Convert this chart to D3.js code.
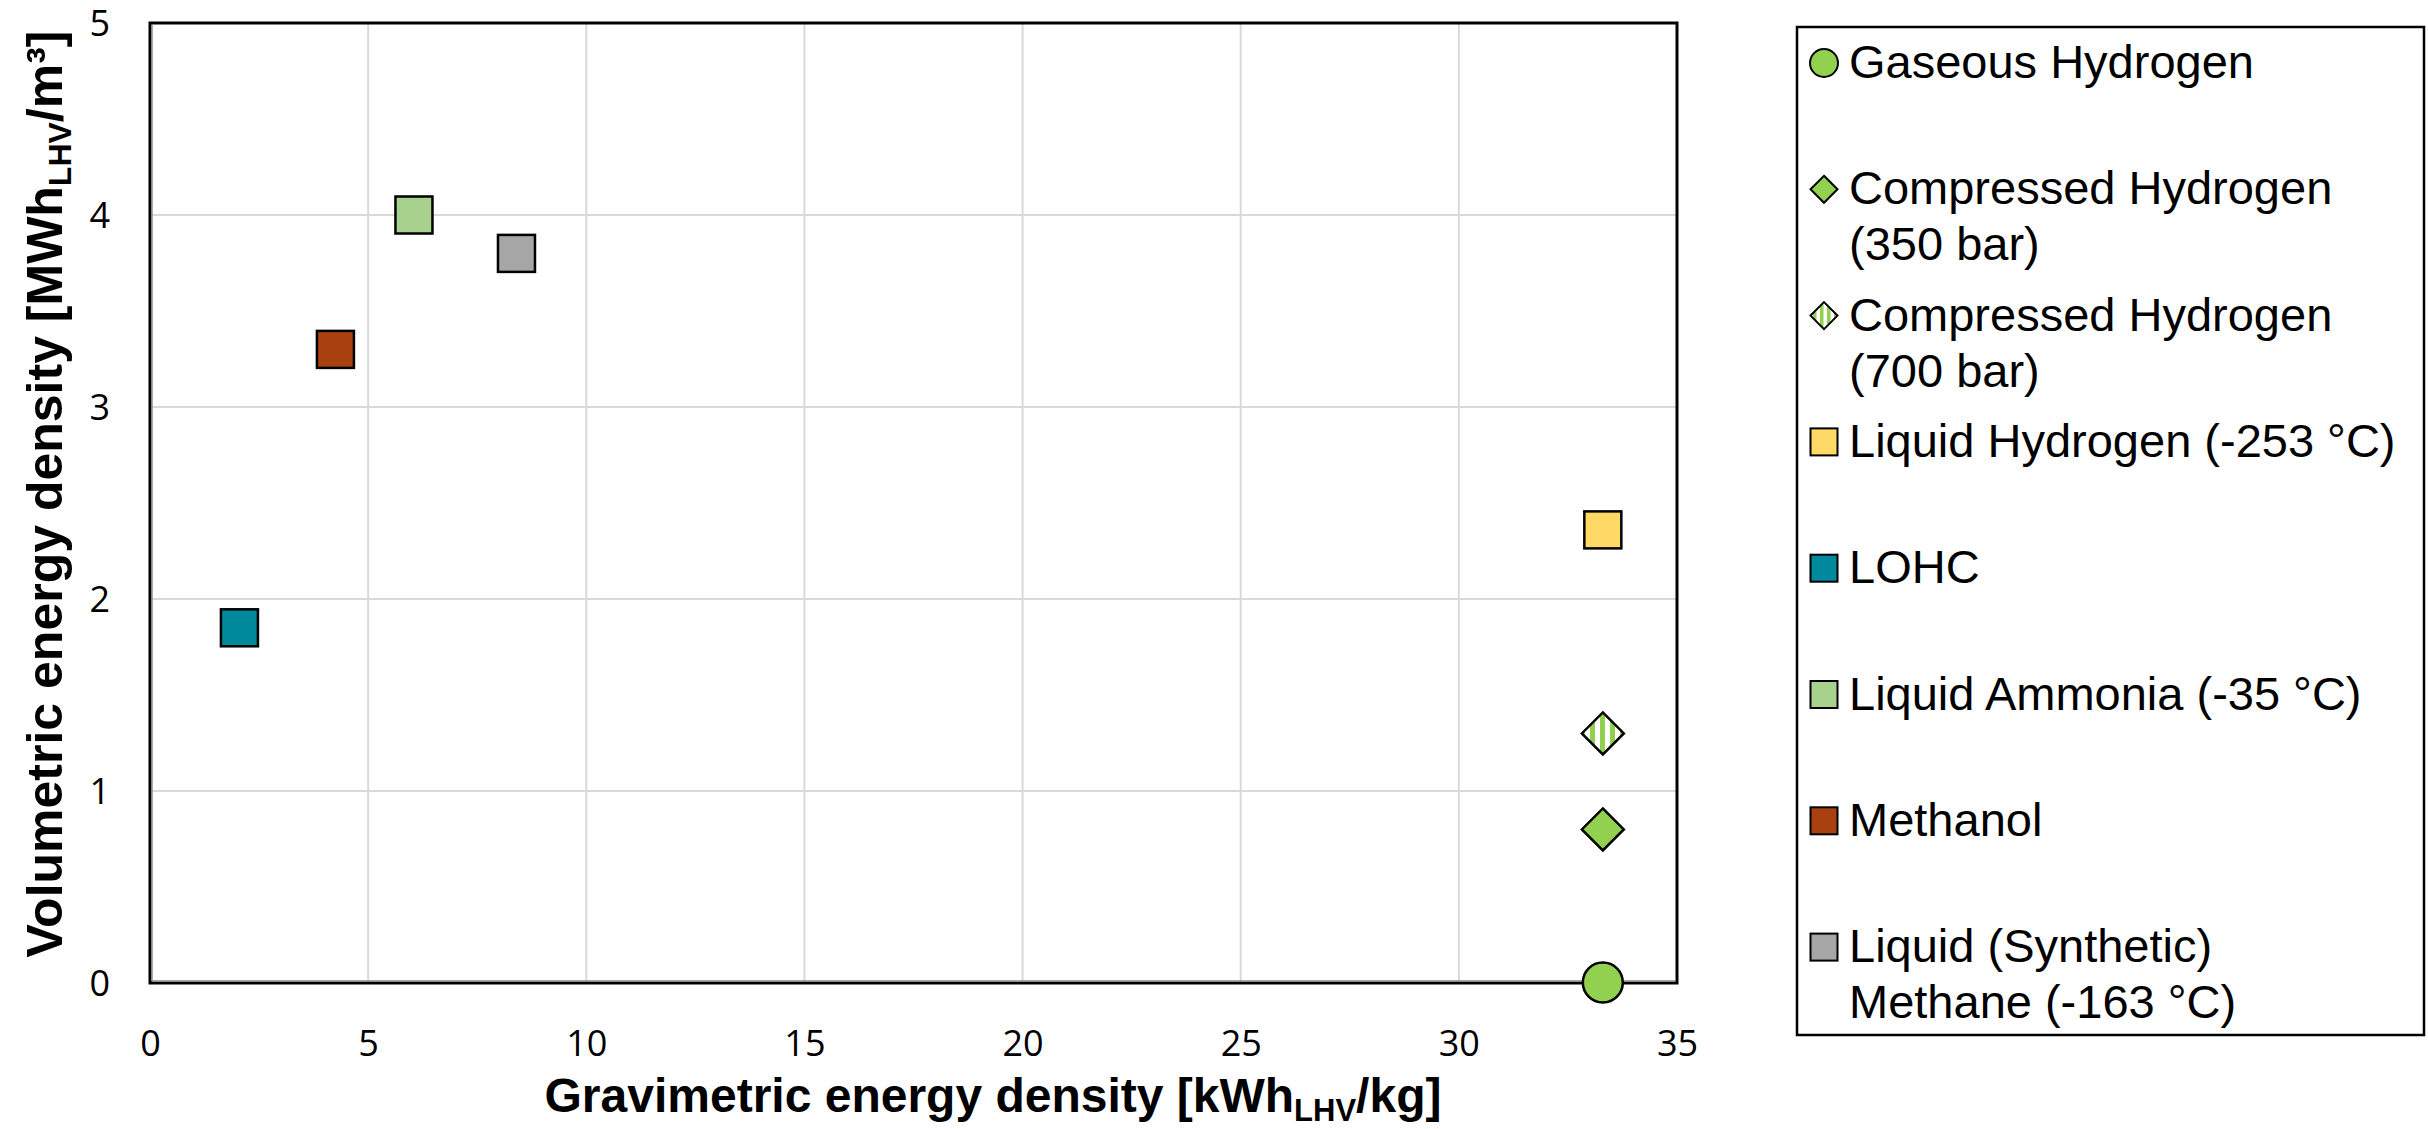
<!DOCTYPE html>
<html>
<head>
<meta charset="utf-8">
<script src="https://cdn.jsdelivr.net/npm/d3@7"></script>
<style>
  html, body { margin: 0; padding: 0; background: #ffffff; }
  svg { display: block; }
</style>
</head>
<body>
<svg id="chart" width="2428" height="1129"></svg>
<script>
// ---------- data ----------
const seriesNames = [
  ["Gaseous Hydrogen"],
  ["Compressed Hydrogen", "(350 bar)"],
  ["Compressed Hydrogen", "(700 bar)"],
  ["Liquid Hydrogen (-253 °C)"],
  ["LOHC"],
  ["Liquid Ammonia (-35 °C)"],
  ["Methanol"],
  ["Liquid (Synthetic)", "Methane (-163 °C)"]
];
const gravimetric = [33.3, 33.3, 33.3, 33.3, 2.05, 6.05, 4.25, 8.4];   // kWh_LHV/kg
const volumetric  = [0.003, 0.8, 1.3, 2.36, 1.85, 4.0, 3.3, 3.8];      // MWh_LHV/m³
const markerShapes = ["circle", "diamond", "diamond", "square", "square", "square", "square", "square"];
const markerFills  = ["#92d050", "#92d050", "stripes", "#ffd966", "#00889c", "#a9d18e", "#a9400f", "#a6a6a6"];
const xTicks = [0, 5, 10, 15, 20, 25, 30, 35];
const yTicks = [0, 1, 2, 3, 4, 5];

// ---------- layout ----------
const svg = d3.select("#chart");
const plot = { left: 150, right: 1677, top: 23, bottom: 983 };

const x = d3.scaleLinear().domain([0, 35]).range([plot.left, plot.right]);
const y = d3.scaleLinear().domain([0, 5]).range([plot.bottom, plot.top]);

// stripe pattern for 700 bar
const defs = svg.append("defs");
function stripePattern(id, w) {
  const p = defs.append("pattern").attr("id", id)
    .attr("patternUnits", "userSpaceOnUse").attr("width", w * 2).attr("height", 10);
  p.append("rect").attr("width", w * 2).attr("height", 10).attr("fill", "#ffffff");
  p.append("rect").attr("width", w).attr("height", 10).attr("fill", "#92d050");
}
stripePattern("stripesPlot", 5);
stripePattern("stripesLegend", 3.5);

function fillFor(i, legend) {
  if (markerFills[i] === "stripes") return legend ? "url(#stripesLegend)" : "url(#stripesPlot)";
  return markerFills[i];
}

// gridlines
const grid = svg.append("g");
grid.selectAll("line.gx").data(xTicks.filter(d => d > 0 && d < 35)).enter().append("line")
  .attr("x1", d => x(d)).attr("x2", d => x(d))
  .attr("y1", plot.top).attr("y2", plot.bottom)
  .attr("stroke", "#d9d9d9").attr("stroke-width", 2);
grid.selectAll("line.gy").data(yTicks.filter(d => d > 0 && d < 5)).enter().append("line")
  .attr("x1", plot.left).attr("x2", plot.right)
  .attr("y1", d => y(d)).attr("y2", d => y(d))
  .attr("stroke", "#d9d9d9").attr("stroke-width", 2);

// plot frame
svg.append("rect")
  .attr("x", plot.left).attr("y", plot.top)
  .attr("width", plot.right - plot.left).attr("height", plot.bottom - plot.top)
  .attr("fill", "none").attr("stroke", "#000").attr("stroke-width", 3);
svg.append("line").attr("x1", plot.left + 2).attr("x2", plot.left + 2)
  .attr("y1", plot.top + 2).attr("y2", plot.bottom - 2)
  .attr("stroke", "#8c8c8c").attr("stroke-width", 1.5);
svg.append("line").attr("x1", plot.left + 2).attr("x2", plot.right - 2)
  .attr("y1", plot.bottom - 2).attr("y2", plot.bottom - 2)
  .attr("stroke", "#8c8c8c").attr("stroke-width", 1.5);

// axes (tick labels only)
const tickFont = "'Open Sans', 'Noto Sans', sans-serif";
const xAxis = svg.append("g").attr("transform", `translate(0,${plot.bottom})`)
  .call(d3.axisBottom(x).tickValues(xTicks).tickFormat(d3.format("d")).tickSize(0));
const yAxis = svg.append("g").attr("transform", `translate(${plot.left},0)`)
  .call(d3.axisLeft(y).tickValues(yTicks).tickFormat(d3.format("d")).tickSize(0).tickPadding(40));
[xAxis, yAxis].forEach(a => {
  a.select(".domain").remove();
  a.selectAll("text").attr("font-family", tickFont).attr("font-size", 36).attr("fill", "#000");
});
xAxis.selectAll("text").attr("dy", "0.35em").attr("y", 60);
yAxis.selectAll("text").attr("dy", "0.35em");

// axis titles
const titleFont = "'Liberation Sans', Arial, sans-serif";
const xt = svg.append("text")
  .attr("x", 993).attr("y", 1112)
  .attr("text-anchor", "middle")
  .attr("font-family", titleFont).attr("font-weight", "bold").attr("font-size", 48).attr("fill", "#000");
xt.append("tspan").text("Gravimetric energy density [kWh");
xt.append("tspan").attr("font-size", 31).attr("dy", 9).text("LHV");
xt.append("tspan").attr("dy", -9).text("/kg]");

const yt = svg.append("text")
  .attr("transform", "translate(62,494) rotate(-90)")
  .attr("text-anchor", "middle")
  .attr("font-family", titleFont).attr("font-weight", "bold").attr("font-size", 50).attr("fill", "#000");
yt.append("tspan").text("Volumetric energy density [MWh");
yt.append("tspan").attr("font-size", 32).attr("dy", 9).text("LHV");
yt.append("tspan").attr("dy", -9).text("/m³]");

// markers
function drawMarker(g, shape, cx, cy, size, fill, sw) {
  const h = size / 2;
  if (shape === "circle") {
    g.append("circle").attr("cx", cx).attr("cy", cy).attr("r", h)
      .attr("fill", fill).attr("stroke", "#000").attr("stroke-width", sw);
  } else if (shape === "diamond") {
    g.append("path")
      .attr("d", `M${cx},${cy - h}L${cx + h},${cy}L${cx},${cy + h}L${cx - h},${cy}Z`)
      .attr("fill", fill).attr("stroke", "#000").attr("stroke-width", sw);
  } else {
    g.append("rect").attr("x", cx - h).attr("y", cy - h).attr("width", size).attr("height", size)
      .attr("fill", fill).attr("stroke", "#000").attr("stroke-width", sw);
  }
}
const pts = svg.append("g");
const order = [4, 5, 6, 7, 3, 2, 1, 0];
order.forEach(i => {
  const s = markerShapes[i] === "circle" ? 40 : (markerShapes[i] === "diamond" ? 42 : 37);
  drawMarker(pts, markerShapes[i], x(gravimetric[i]), y(volumetric[i]), s, fillFor(i, false), 2.5);
});

// legend
const legend = svg.append("g");
legend.append("rect").attr("x", 1797).attr("y", 27).attr("width", 627).attr("height", 1008)
  .attr("fill", "#fff").attr("stroke", "#000").attr("stroke-width", 2.5);
const legendFont = "'Liberation Sans', Arial, sans-serif";
seriesNames.forEach((lines, i) => {
  const base = 78 + i * 126.3;
  const s = markerShapes[i] === "circle" ? 28 : 27;
  drawMarker(legend, markerShapes[i], 1824, base - 15, s, fillFor(i, true), 2);
  const t = legend.append("text").attr("x", 1849).attr("y", base)
    .attr("font-family", legendFont).attr("font-size", 47).attr("fill", "#000");
  lines.forEach((ln, j) => {
    t.append("tspan").attr("x", 1849).attr("dy", j === 0 ? 0 : 56).text(ln);
  });
});
</script>
</body>
</html>
